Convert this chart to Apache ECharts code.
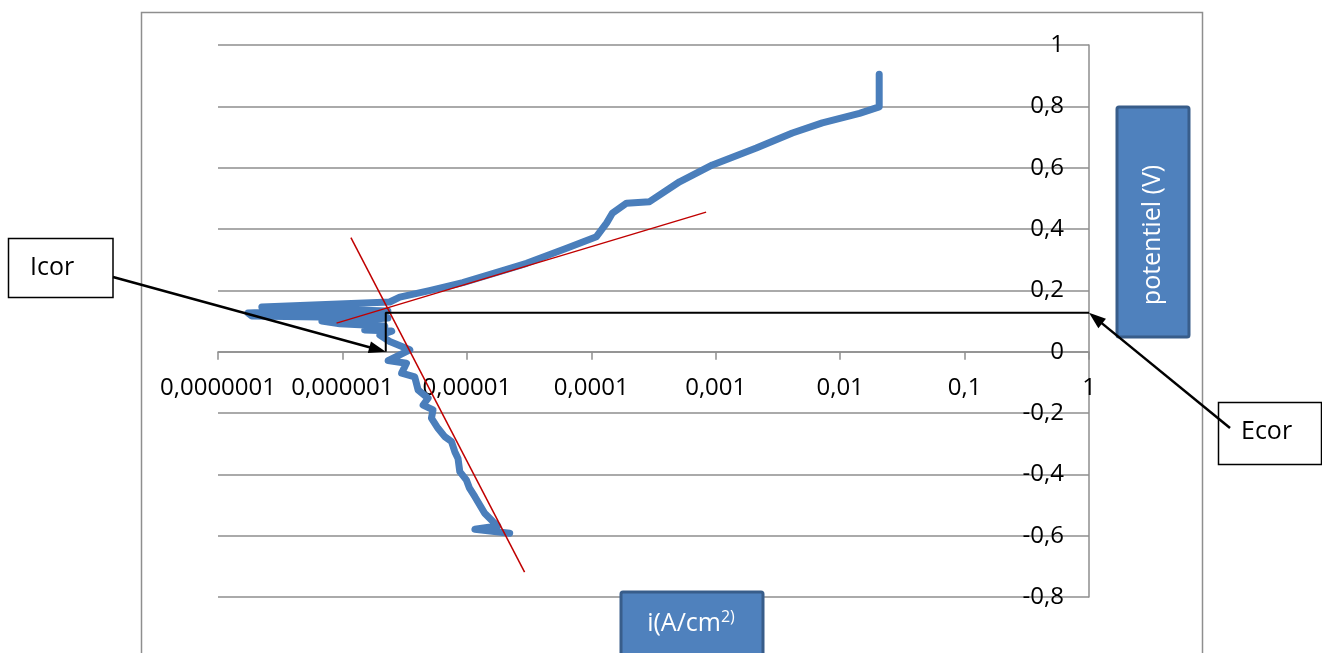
<!DOCTYPE html>
<html><head><meta charset="utf-8">
<script src="https://cdn.jsdelivr.net/npm/echarts@6/dist/echarts.min.js"></script>
<style>html,body{margin:0;padding:0;background:#fff;overflow:hidden}#c{width:1322px;height:653px;}</style>
</head><body><div id="c"></div>
<script>
// Polarisation curve: current density (A/cm2) and potential (V)
const current = [2.21e-5,1.16e-5,1.77e-5,1.62e-5,1.39e-5,1.27e-5,1.16e-5,1.05e-5,9.9e-6,8.77e-6,
  8.49e-6,8.0e-6,7.52e-6,6.64e-6,5.86e-6,5.19e-6,5.35e-6,4.45e-6,4.88e-6,4.06e-6,
  3.81e-6,2.99e-6,3.27e-6,2.33e-6,3.48e-6,2.40e-6,2.0e-6,2.49e-6,1.51e-6,2.19e-6,
  9.53e-7,6.84e-7,1.38e-6,2.32e-6,6.59e-7,1.87e-7,1.74e-7,4.55e-7,2.32e-6,2.25e-7,
  2.40e-6,2.89e-6,
  5.0e-6,9.27e-6,1.94e-5,3.02e-5,6.33e-5,1.10e-4,1.33e-4,1.48e-4,1.92e-4,2.94e-4,
  5.12e-4,9.41e-4,2.12e-3,4.13e-3,7.19e-3,1.43e-2,2.06e-2,2.06e-2];
const potential = [-0.592,-0.579,-0.568,-0.554,-0.527,-0.500,-0.473,-0.445,-0.418,-0.391,
  -0.348,-0.326,-0.293,-0.277,-0.250,-0.217,-0.190,-0.174,-0.152,-0.125,
  -0.082,-0.070,-0.038,-0.029,0.006,0.033,0.054,0.067,0.071,0.084,
  0.091,0.100,0.103,0.110,0.113,0.116,0.126,0.133,0.133,0.146,
  0.162,0.178,
  0.199,0.225,0.264,0.288,0.337,0.375,0.420,0.452,0.484,0.489,
  0.554,0.609,0.664,0.713,0.746,0.777,0.798,0.905];
// Tafel tangents
const cathodicI = [1.17e-6, 2.91e-5];
const cathodicE = [0.372, -0.719];
const anodicI = [8.97e-7, 8.37e-4];
const anodicE = [0.093, 0.455];
// corrosion point
const Icorr = 2.23e-6;
const Ecorr = 0.127;
const xTickLabels = ['0,0000001','0,000001','0,00001','0,0001','0,001','0,01','0,1','1'];
const yTickLabels = ['-0,8','-0,6','-0,4','-0,2','0','0,2','0,4','0,6','0,8','1'];

const FONT = 'Open Sans';
const GRAY = '#8e8e8e';
const chart = echarts.init(document.getElementById('c'), null, {renderer: 'canvas'});

const zip = (a, b) => a.map((v, i) => [v, b[i]]);

chart.setOption({
  animation: false,
  backgroundColor: '#fff',
  grid: {left: 218, right: 233, top: 45, bottom: 56, containLabel: false},
  xAxis: {
    type: 'log', logBase: 10, min: 1e-7, max: 1,
    axisLine: {show: true, onZero: true, onZeroAxisIndex: 0, lineStyle: {color: GRAY, width: 1.5}},
    axisTick: {show: true, length: 8, lineStyle: {color: GRAY, width: 1.5}},
    axisLabel: {
      margin: -221, color: '#000', fontFamily: FONT, fontSize: 24,
      formatter: v => xTickLabels[Math.round(Math.log10(v)) + 7]
    },
    splitLine: {show: false}
  },
  yAxis: {
    type: 'value', position: 'right', min: -0.8, max: 1, interval: 0.2,
    axisLine: {show: true, onZero: false, lineStyle: {color: GRAY, width: 1.5}},
    axisTick: {show: false},
    axisLabel: {
      inside: true, margin: 25, color: '#000', fontFamily: FONT, fontSize: 24,
      formatter: v => yTickLabels[Math.round((v + 0.8) / 0.2)]
    },
    splitLine: {show: true, lineStyle: {color: GRAY, width: 1.5}}
  },
  series: [
    {
      type: 'line', data: zip(current, potential), showSymbol: false, symbol: 'none',
      lineStyle: {color: '#4A7EBB', width: 7, cap: 'round', join: 'round'}, z: 3
    },
    {
      type: 'line', data: zip(cathodicI, cathodicE), symbol: 'none',
      lineStyle: {color: '#C00000', width: 1.5}, z: 4
    },
    {
      type: 'line', data: zip(anodicI, anodicE), symbol: 'none',
      lineStyle: {color: '#C00000', width: 1.5}, z: 4
    },
    {
      type: 'line', data: [[1, Ecorr], [Icorr, Ecorr], [Icorr, 0]], symbol: 'none',
      lineStyle: {color: '#000', width: 2}, z: 5
    }
  ]
});

function arrow(from, to) {
  const headLen = 17, headW = 12;
  const dx = to[0] - from[0], dy = to[1] - from[1];
  const L = Math.hypot(dx, dy);
  const ux = dx / L, uy = dy / L;
  const bx = to[0] - ux * headLen, by = to[1] - uy * headLen;
  return [
    {type: 'line', silent: true, z: 100, shape: {x1: from[0], y1: from[1], x2: bx + ux, y2: by + uy},
      style: {stroke: '#000', lineWidth: 2.5}},
    {type: 'polygon', silent: true, z: 100,
      shape: {points: [[to[0], to[1]], [bx - uy * headW / 2, by + ux * headW / 2], [bx + uy * headW / 2, by - ux * headW / 2]]},
      style: {fill: '#000'}}
  ];
}

const icorTip = chart.convertToPixel({xAxisIndex: 0, yAxisIndex: 0}, [Icorr, 0]);
const ecorTip = chart.convertToPixel({xAxisIndex: 0, yAxisIndex: 0}, [1, Ecorr]);

chart.setOption({
  graphic: [
    {type: 'rect', silent: true, z: -10, shape: {x: 141.5, y: 12.5, width: 1061, height: 700},
      style: {fill: 'none', stroke: GRAY, lineWidth: 1.5}},
    // y axis title box
    {type: 'rect', silent: true, z: 50, shape: {x: 1117, y: 107, width: 72, height: 230, r: 2},
      style: {fill: '#4F81BD', stroke: '#385D8A', lineWidth: 3}},
    {type: 'text', silent: true, z: 51, x: 1153, y: 235, rotation: Math.PI / 2,
      style: {text: 'potentiel (V)', fill: '#fff', font: '25px "Open Sans"', align: 'center', verticalAlign: 'middle'}},
    // x axis title box
    {type: 'rect', silent: true, z: 50, shape: {x: 621, y: 592, width: 142, height: 80, r: 2},
      style: {fill: '#4F81BD', stroke: '#385D8A', lineWidth: 3}},
    {type: 'text', silent: true, z: 51, x: 691, y: 624,
      style: {text: '{a|i(A/cm}{s|2)}', align: 'center', verticalAlign: 'middle',
        rich: {
          a: {fill: '#fff', color: '#fff', fontFamily: FONT, fontSize: 25, lineHeight: 30},
          s: {fill: '#fff', color: '#fff', fontFamily: FONT, fontSize: 16, lineHeight: 18, verticalAlign: 'top'}
        }}},
    // Icor callout
    {type: 'rect', silent: true, z: 60, shape: {x: 8.5, y: 238.5, width: 104.5, height: 59},
      style: {fill: '#fff', stroke: '#000', lineWidth: 1.5}},
    {type: 'text', silent: true, z: 61, x: 30, y: 268,
      style: {text: 'Icor', fill: '#000', font: '25px "Open Sans"', align: 'left', verticalAlign: 'middle'}},
    ...arrow([113, 277], icorTip),
    // Ecor callout
    {type: 'rect', silent: true, z: 60, shape: {x: 1218.5, y: 402.5, width: 103, height: 62},
      style: {fill: '#fff', stroke: '#000', lineWidth: 1.5}},
    {type: 'text', silent: true, z: 61, x: 1241, y: 432,
      style: {text: 'Ecor', fill: '#000', font: '25px "Open Sans"', align: 'left', verticalAlign: 'middle'}},
    ...arrow([1230, 428], ecorTip)
  ]
});
</script>
</body></html>
